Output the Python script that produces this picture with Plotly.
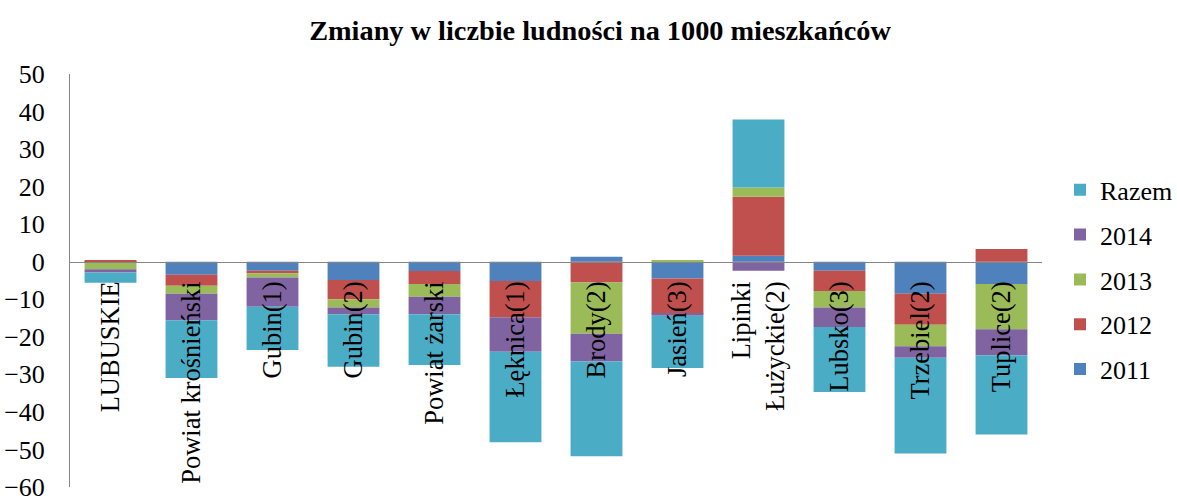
import plotly.graph_objects as go

categories = ["LUBUSKIE", "Powiat krośnieński", "Gubin(1)", "Gubin(2)", "Powiat żarski",
              "Łęknica(1)", "Brody(2)", "Jasień(3)", "Lipinki<br>Łużyckie(2)", "Lubsko(3)",
              "Trzebiel(2)", "Tuplice(2)"]
v2011 = [-0.2, -3.5, -2.4, -4.9, -2.5, -5.1, 1.3, -4.5, 1.6, -2.4, -8.5, -5.9]
v2012 = [0.4, -2.9, -0.7, -5.1, -3.4, -9.7, -5.5, -9.4, 15.7, -5.4, -8.3, 3.4]
v2013 = [-1.8, -2.1, -1.1, -2.2, -3.4, 0.0, -13.7, 0.4, 2.5, -4.4, -5.7, -12.1]
v2014 = [-0.9, -7.1, -7.8, -1.8, -4.7, -9.2, -7.4, -0.5, -2.4, -5.2, -3.1, -6.9]
razem = [-2.7, -15.4, -11.5, -14.0, -13.5, -24.1, -25.2, -13.9, 18.1, -17.3, -25.5, -21.1]
y_ticks = [50, 40, 30, 20, 10, 0, -10, -20, -30, -40, -50, -60]

series = [("2011", v2011, "#4F81BD"), ("2012", v2012, "#C0504D"),
          ("2013", v2013, "#9BBB59"), ("2014", v2014, "#8064A2"),
          ("Razem", razem, "#4BACC6")]

FONT = "Liberation Serif, Times New Roman, serif"
fig = go.Figure()
for i, (name, vals, col) in enumerate(series):
    fig.add_trace(go.Bar(x=categories, y=vals, name=name, legendgroup=name,
                         legendrank=1000 - i,
                         marker=dict(color=col, line=dict(width=0))))

fig.update_layout(
    barmode="relative",
    bargap=0.36,
    width=1177, height=496,
    margin=dict(l=70, r=135, t=74, b=9),
    paper_bgcolor="white", plot_bgcolor="white",
    font=dict(family=FONT, color="black", size=24),
    title=dict(text="<b>Zmiany w liczbie ludności na 1000 mieszkańców</b>",
               x=0.5098, xanchor="center", y=0.9395, yanchor="middle",
               font=dict(family=FONT, size=28.3, color="black")),
    legend=dict(traceorder="grouped", tracegroupgap=8,
                xref="container", yref="container",
                x=0.9006, xanchor="left", y=0.4357, yanchor="middle",
                font=dict(family=FONT, size=26, color="black"),
                itemwidth=30),
    showlegend=True,
)
fig.update_yaxes(range=[-60, 50], tickvals=y_ticks, showgrid=False, zeroline=False,
                 showline=True, linecolor="#868686", linewidth=1, automargin=False,
                 ticks="", ticklabelstandoff=19, ticklabeloverflow="allow",
                 tickfont=dict(family=FONT, size=26, color="black"))
fig.update_xaxes(anchor="free", position=60 / 110, showline=True, linecolor="#868686",
                 linewidth=1, ticks="", tickangle=-90, showgrid=False, automargin=False,
                 ticklabelstandoff=8, ticklabeloverflow="allow",
                 tickfont=dict(family=FONT, size=26.5, color="black"))

fig.write_html("out.html", config={"displayModeBar": False},
               post_script="document.body.style.margin='0';document.body.style.overflow='hidden';")
